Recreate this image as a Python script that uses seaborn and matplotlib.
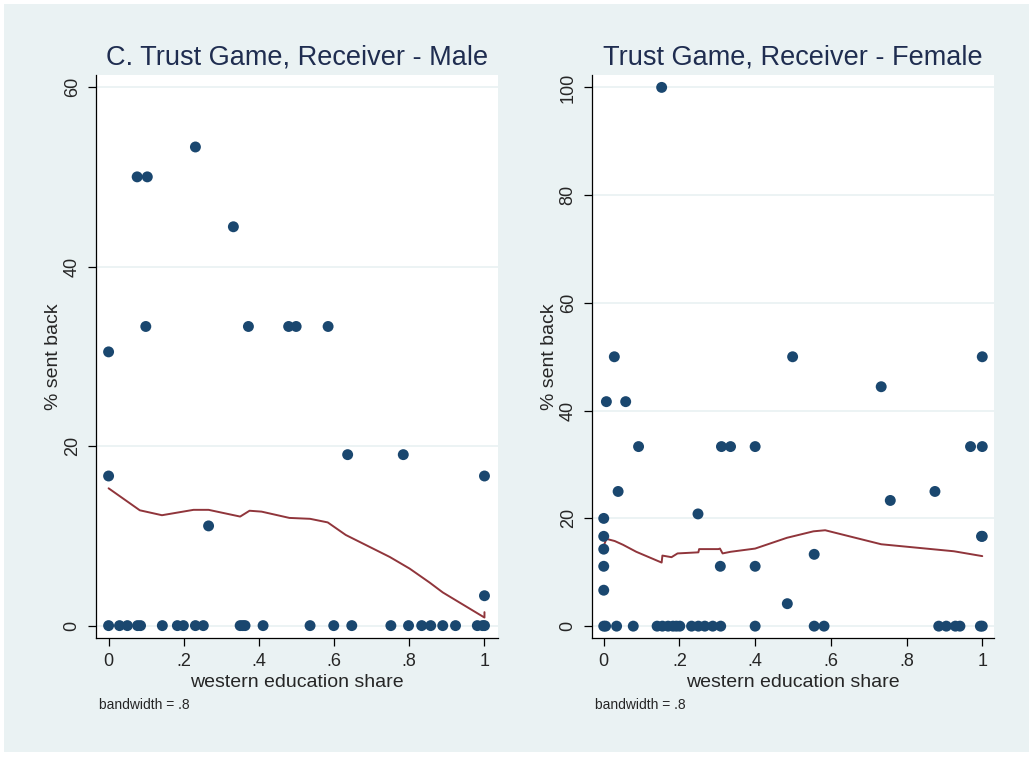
import pandas as pd
import matplotlib.pyplot as plt
import seaborn as sns
from matplotlib.patches import Rectangle

# male receivers: western education share vs % sent back
male_share = [0, 0, 0.076, 0.103, 0.099, 0.231, 0.266, 0.332, 0.372, 0.479, 0.499, 0.584,
              0.636, 0.784, 1.0, 1.0,
              0, 0.029, 0.05, 0.077, 0.085, 0.143, 0.183, 0.199, 0.231, 0.252, 0.350, 0.357,
              0.363, 0.411, 0.536, 0.599, 0.647, 0.751, 0.798, 0.833, 0.857, 0.889, 0.923,
              0.981, 0.995, 1.0]
male_sent = [30.5, 16.67, 50, 50, 33.33, 53.33, 11.11, 44.44, 33.33, 33.33, 33.33, 33.33,
             19.05, 19.05, 16.67, 3.33,
             0, 0, 0, 0, 0, 0, 0, 0, 0, 0, 0, 0,
             0, 0, 0, 0, 0, 0, 0, 0, 0, 0, 0,
             0, 0, 0]
male_lowess_x = [0, 0.083, 0.142, 0.226, 0.266, 0.35, 0.375, 0.407, 0.481, 0.536, 0.583,
                 0.631, 0.748, 0.801, 0.854, 0.889, 1.0, 1.0]
male_lowess_y = [15.3, 12.85, 12.3, 12.9, 12.9, 12.15, 12.8, 12.7, 12.0, 11.9, 11.5,
                 10.1, 7.65, 6.35, 4.8, 3.7, 0.9, 1.5]

# female receivers
female_share = [0.153, 0.028, 0.499, 1.0, 0.007, 0.058, 0.733, 0.092, 0.311, 0.335, 0.40,
                0.969, 1.0, 0.038, 0.875, 0.757, 0.249, 0, 0, 1.0, 0.998, 0, 0.556, 0,
                0.308, 0.40, 0, 0.485,
                0, 0.005, 0.034, 0.078, 0.141, 0.155, 0.17, 0.183, 0.192, 0.201, 0.232,
                0.25, 0.267, 0.288, 0.309, 0.40, 0.556, 0.582, 0.885, 0.905, 0.929, 0.941,
                0.995, 1.0]
female_sent = [100, 50, 50, 50, 41.67, 41.67, 44.44, 33.33, 33.33, 33.33, 33.33,
               33.33, 33.33, 25, 25, 23.33, 20.83, 20, 16.67, 16.67, 16.67, 14.29, 13.33, 11.11,
               11.11, 11.11, 6.67, 4.17,
               0, 0, 0, 0, 0, 0, 0, 0, 0, 0, 0,
               0, 0, 0, 0, 0, 0, 0, 0, 0, 0, 0,
               0, 0]
female_lowess_x = [0, 0.007, 0.029, 0.051, 0.086, 0.153, 0.155, 0.179, 0.195, 0.25, 0.252,
                   0.303, 0.307, 0.314, 0.335, 0.40, 0.484, 0.554, 0.585, 0.733, 0.925, 1.0]
female_lowess_y = [14.9, 16.2, 15.8, 15.1, 13.8, 11.8, 13.1, 12.8, 13.5, 13.7, 14.3,
                   14.3, 14.4, 13.5, 13.8, 14.4, 16.4, 17.6, 17.8, 15.2, 13.9, 13.0]

xticks = [0, 0.2, 0.4, 0.6, 0.8, 1.0]
xtick_labels = ['0', '.2', '.4', '.6', '.8', '1']

sns.set_style('white')
plt.rcParams['font.family'] = ['Liberation Sans', 'DejaVu Sans']

BG = '#EAF2F3'
NAVY = '#1A476F'
MAROON = '#90353B'

fig = plt.figure(figsize=(10.33, 7.58), dpi=100)
fig.patch.set_facecolor('white')
fig.add_artist(Rectangle((4 / 1033, 6 / 758), 1025 / 1033, 748 / 758,
                         transform=fig.transFigure, facecolor=BG, edgecolor='none', zorder=-10))

panels = [
    dict(left=96, right=498, xs=male_share, ys=male_sent, lx=male_lowess_x, ly=male_lowess_y,
         title='C. Trust Game, Receiver - Male', yticks=[0, 20, 40, 60], ylim=(-1.38, 61.35),
         xlim=(-0.0335, 1.036)),
    dict(left=592, right=994, xs=female_share, ys=female_sent, lx=female_lowess_x, ly=female_lowess_y,
         title='Trust Game, Receiver - Female', yticks=[0, 20, 40, 60, 80, 100], ylim=(-2.2, 102.3),
         xlim=(-0.031, 1.031)),
]

top_px, bottom_px = 75, 638
for p in panels:
    ax = fig.add_axes([p['left'] / 1033, 1 - bottom_px / 758,
                       (p['right'] - p['left']) / 1033, (bottom_px - top_px) / 758])
    ax.set_facecolor('white')
    for yt in p['yticks']:
        ax.axhline(yt, color=BG, lw=1.3, zorder=0)

    pts = pd.DataFrame({'share': p['xs'], 'sent': p['ys']})
    sns.scatterplot(data=pts, x='share', y='sent', ax=ax, color=NAVY, s=62,
                    edgecolor='none', linewidth=0, zorder=3)
    lw = pd.DataFrame({'share': p['lx'], 'fit': p['ly']})
    sns.lineplot(data=lw, x='share', y='fit', ax=ax, color=MAROON, lw=1.4,
                 sort=False, estimator=None, zorder=2)

    ax.set_xlim(*p['xlim'])
    ax.set_ylim(*p['ylim'])
    ax.set_xticks(xticks)
    ax.set_xticklabels(xtick_labels)
    ax.set_yticks(p['yticks'])
    ax.set_yticklabels([str(v) for v in p['yticks']], rotation=90, va='center')
    ax.tick_params(axis='both', direction='out', length=6, width=0.9, color='black',
                   labelsize=13, pad=5, left=True, bottom=True)

    for side in ['top', 'right']:
        ax.spines[side].set_visible(False)
    for side in ['left', 'bottom']:
        ax.spines[side].set_color('black')
        ax.spines[side].set_linewidth(0.9)

    ax.set_xlabel('western education share', fontsize=14, labelpad=3)
    ax.set_ylabel('% sent back', fontsize=14, labelpad=1)
    ax.set_title(p['title'], fontsize=19.5, color='#1F2D50', pad=7.5)

    fig.text((p['left'] + 3) / 1033, 1 - 705 / 758, 'bandwidth = .8', fontsize=10,
             ha='left', va='center')

fig.savefig('out.png', dpi=100, facecolor='white')
